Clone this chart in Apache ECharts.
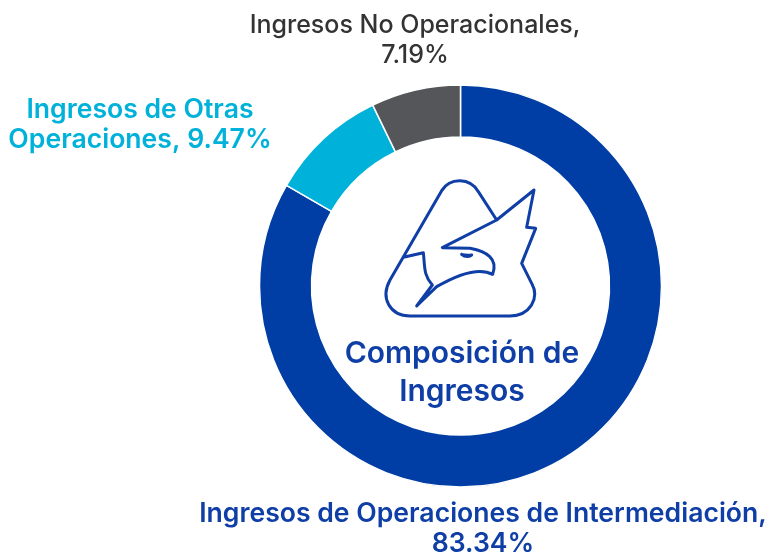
<!DOCTYPE html>
<html><head><meta charset="utf-8">
<style>html,body{margin:0;padding:0;background:#fff}#c{width:783px;height:552px}</style>
<script src="https://cdn.jsdelivr.net/npm/echarts@6/dist/echarts.min.js"></script>
</head><body><div id="c"></div>
<script>
const categories = ["Ingresos de Operaciones de Intermediación", "Ingresos de Otras Operaciones", "Ingresos No Operacionales"];
const values = [83.34, 9.47, 7.19];
const sliceColors = ["#003DA5", "#00B2D9", "#54565A"];
const labelText = ["Ingresos de Operaciones de Intermediación,\n83.34%", "Ingresos de Otras\nOperaciones, 9.47%", "Ingresos No Operacionales,\n7.19%"];
const labelBoxes = [[483, 529], [140, 125], [415, 40]];
const centerTitle = "Composición de\nIngresos";
const logoPath = "M380 150 L325 65 C300 22 240 22 215 62 L60 330 C30 385 60 437 120 438 L420 438 C480 437 510 385 485 340 L455 280 L497 175 L470 172 L492 60 L380 150 L217 233 L300 235 C350 245 385 265 368 313 C340 298 290 298 200 350 L140 408 L187 345 C160 315 165 290 160 248 L100 262 M275 253 C285 256 295 256 305 255 C300 261 285 262 275 253";

echarts.graphic.registerShape('logoShape', echarts.graphic.extendPath(logoPath, {}));

const chart = echarts.init(document.getElementById('c'), null, {renderer:'canvas'});
chart.setOption({
  animation:false,
  backgroundColor:'#fff',
  title:{
    text:centerTitle, left:457, top:330, textAlign:'center',
    textStyle:{fontFamily:'Inter',fontSize:30,fontWeight:600,color:'#0F3FA6',lineHeight:38}
  },
  series:[{
    type:'pie', center:[460.5,286], radius:[149,201], startAngle:90, clockwise:true,
    minAngle:0, avoidLabelOverlap:false,
    itemStyle:{borderColor:'#fff',borderWidth:1.5},
    labelLine:{show:false},
    data:categories.map((n,i)=>({
      name:n, value:values[i],
      itemStyle:{color:sliceColors[i]},
      label:{
        show:true, position:'outside', formatter:labelText[i], align:'center', verticalAlign:'middle',
        fontFamily:'Inter', fontSize:i===2?25:26.6, fontWeight:i===2?500:600, lineHeight:30,
        color:i===2?'#333333':(i===1?'#00B2D9':'#0F3FA6')
      }
    })),
    labelLayout:function(p){
      const b = labelBoxes[p.dataIndex];
      return {x:b[0], y:b[1], align:'center', verticalAlign:'middle'};
    }
  }],
  graphic:[{
    type:'logoShape', x:370, y:170, scaleX:1/3, scaleY:1/3, silent:true,
    style:{fill:'none',stroke:'#0F3FA6',lineWidth:9,lineJoin:'round',lineCap:'round'}
  }]
});
</script></body></html>
